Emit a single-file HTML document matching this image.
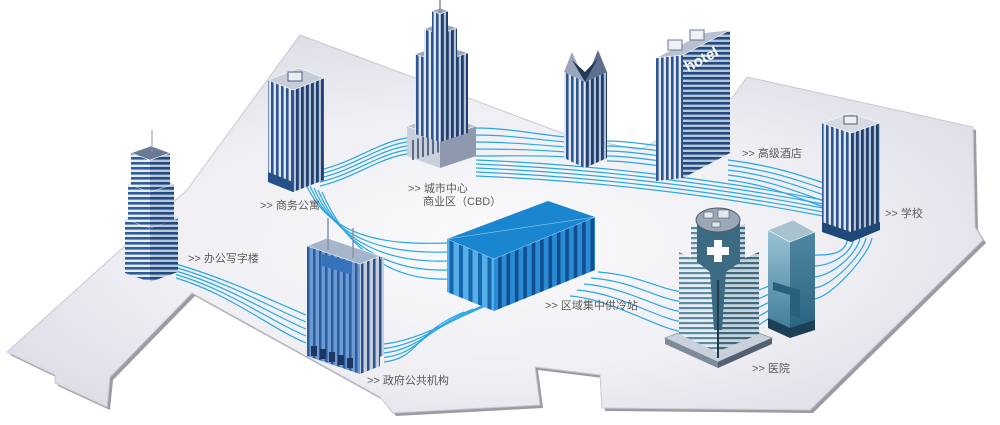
<!DOCTYPE html>
<html><head><meta charset="utf-8"><style>
html,body{margin:0;padding:0;background:#fff;width:1000px;height:425px;overflow:hidden}
svg{display:block}
.lb{font-family:"Liberation Sans","Noto Sans CJK SC",sans-serif;font-size:11px;fill:#5a5a5a}
</style></head><body>
<svg id="s" width="1000" height="425" viewBox="0 0 1000 425" xmlns="http://www.w3.org/2000/svg">
<defs>
<radialGradient id="gg" cx="0.5" cy="0.55" r="0.6">
<stop offset="0" stop-color="#fbfbfd"/><stop offset="0.6" stop-color="#eeeef3"/><stop offset="1" stop-color="#dcdde6"/>
</radialGradient>
<pattern id="vs" width="5" height="10" patternUnits="userSpaceOnUse"><rect width="5" height="10" fill="#dfe5ef"/><rect x="1" width="2.6" height="10" fill="#2d568f"/></pattern>
<pattern id="vsd" width="5" height="10" patternUnits="userSpaceOnUse"><rect width="5" height="10" fill="#b3c0d4"/><rect x="1" width="2.8" height="10" fill="#1f3f70"/></pattern>
<pattern id="hs" width="10" height="5" patternUnits="userSpaceOnUse"><rect width="10" height="5" fill="#e8eef7"/><rect y="2" width="10" height="2.6" fill="#2e5d9a"/></pattern>
<pattern id="hsd" width="10" height="5" patternUnits="userSpaceOnUse"><rect width="10" height="5" fill="#b8c6da"/><rect y="2" width="10" height="2.6" fill="#234a80"/></pattern>
<pattern id="hh" width="10" height="5" patternUnits="userSpaceOnUse"><rect width="10" height="5" fill="#e6eef2"/><rect y="2" width="10" height="2.2" fill="#5f8aa3"/></pattern>
<pattern id="hhd" width="10" height="5" patternUnits="userSpaceOnUse"><rect width="10" height="5" fill="#c4d3dc"/><rect y="2" width="10" height="2.2" fill="#40697f"/></pattern>
<pattern id="gl" width="6" height="10" patternUnits="userSpaceOnUse"><rect width="6" height="10" fill="#6d9ad2"/><rect x="1" width="2.5" height="10" fill="#2a5ca0"/></pattern>
<pattern id="gr" width="6" height="10" patternUnits="userSpaceOnUse"><rect width="6" height="10" fill="#c2cee0"/><rect x="1" width="2.5" height="10" fill="#2d4f82"/></pattern>
<pattern id="cl" width="9.5" height="10" patternUnits="userSpaceOnUse"><rect width="9.5" height="10" fill="#56aee8"/><rect x="3" width="4" height="10" fill="#1566ab"/></pattern>
<pattern id="cr" width="8.4" height="10" patternUnits="userSpaceOnUse"><rect width="8.4" height="10" fill="#2a8ad3"/><rect x="2.5" width="3.6" height="10" fill="#0f4f8f"/></pattern>
<linearGradient id="tl" x1="0" y1="0" x2="0" y2="1"><stop offset="0" stop-color="#9cc3d6"/><stop offset="1" stop-color="#3d7a98"/></linearGradient>
<linearGradient id="tr" x1="0" y1="0" x2="0" y2="1"><stop offset="0" stop-color="#4f86a3"/><stop offset="1" stop-color="#2a6380"/></linearGradient>
</defs>
<polygon points="303,38 570,138 643,153 736,100 750,80 976,130 978,230 986,243 813,413 605,411 603,378 538,370 543,408 396,416 383,400 195,296 113,380 110,410 58,386 58,378 10,355 190,193" fill="#9a9ba3"/>
<polygon points="300,35 567,135 640,150 733,97 747,77 973,127 975,227 983,240 810,410 602,408 600,375 535,367 540,405 393,413 380,397 192,293 110,377 107,407 55,383 55,375 7,352 187,190" fill="url(#gg)" stroke="#c8c9d2" stroke-width="1"/>
<g id="p" fill="none" stroke="#2aa7e2" stroke-width="1.2"></g>
<g id="b"></g>
<text class="lb" x="188" y="262">&gt;&gt; 办公写字楼</text>
<text class="lb" x="260" y="209">&gt;&gt; 商务公寓</text>
<text class="lb" x="408" y="192">&gt;&gt; 城市中心</text>
<text class="lb" x="423" y="205">商业区（CBD）</text>
<text class="lb" x="545" y="309">&gt;&gt; 区域集中供冷站</text>
<text class="lb" x="367" y="384">&gt;&gt; 政府公共机构</text>
<text class="lb" x="742" y="157">&gt;&gt; 高级酒店</text>
<text class="lb" x="885" y="217">&gt;&gt; 学校</text>
<text class="lb" x="752" y="372">&gt;&gt; 医院</text>
</svg>
<script>
var NS="http://www.w3.org/2000/svg",B=document.getElementById('b'),P=document.getElementById('p');
function el(t,a,par){var e=document.createElementNS(NS,t);for(var k in a)e.setAttribute(k,a[k]);(par||B).appendChild(e);return e;}
function poly(pts,f,st){return el('polygon',{points:pts.map(function(p){return p.join(',')}).join(' '),fill:f,stroke:st||'none','stroke-width':0.6});}
function box(cx,t,b,wl,dl,wr,dr,fl,fr,ft){
 poly([[cx-wl,t+dl],[cx,t],[cx,b],[cx-wl,b+dl]],fl);
 poly([[cx,t],[cx+wr,t+dr],[cx+wr,b+dr],[cx,b]],fr);
 if(ft)poly([[cx-wl,t+dl],[cx,t],[cx+wr,t+dr],[cx+wr-wl,t+dr+dl]],ft,'#fff');
}
function pipes(n,x0,y0,dx0,dy0,x1,y1,dx1,dy1,c0x,c0y,c1x,c1y){
 for(var i=0;i<n;i++){
  var a=[x0+dx0*i,y0+dy0*i],b=[x1+dx1*i,y1+dy1*i];
  var d='M'+a+' C'+(c0x+dx0*i)+','+(c0y+dy0*i)+' '+(c1x+dx1*i)+','+(c1y+dy1*i)+' '+b;
  el('path',{d:d},P);
 }
}
pipes(5,176,264,0,3.5,306,315,0,7,230,280,270,300);
pipes(5,320,170,0,4,414,137,0,4,360,160,380,140);
pipes(5,306,184,4,2,448,243,0,9,330,240,390,245);
pipes(5,475,128,0,7,566,137,0,5,510,128,540,135);
pipes(5,607,141,0,5,660,146,0,5,625,141,645,144);
pipes(5,476,160,0,4,823,200,0,4,600,165,720,180);
pipes(5,728,160,0,5,824,183,0,6,770,165,800,175);
pipes(5,500,300,-9,3,384,344,0,4.5,450,320,420,340);
pipes(5,598,272,-7,6,684,292,0,10,640,275,660,290);
pipes(5,848,238,6,0,813,255,0,11,845,255,830,255);
pipes(5,752,292,0,9,772,285,0,8,760,290,766,287);
// CBD
box(440,138,168,33,-12,36,-12,'#c9cfdb','#8e99ad','#b7bfcd');
for(var i=0;i<6;i++)el('rect',{x:412+i*5,y:140+i*-1.5,width:2,height:20,fill:'#596a86'});
box(440,62,142,25,-8,28,-9,'url(#vs)','url(#vsd)','#9aa6bb');
box(440,34,64,16,-5,17,-6,'url(#vs)','url(#vsd)','#9aa6bb');
box(440,14,36,8,-3,8,-3,'url(#vs)','url(#vsd)','#9aa6bb');
el('line',{x1:440,y1:0,x2:440,y2:12,stroke:'#7d8aa0','stroke-width':1.5});
// gothic
box(585,82,168,21,-10,22,-10,'url(#vs)','url(#vsd)');
poly([[564,72],[572,52],[585,82]],'#9aa6bb');poly([[585,82],[598,50],[607,72]],'#5e6e8b');
poly([[572,60],[585,82],[598,58],[585,72]],'#24385c');
// hotel
box(683,55,178,27,3,47,-25,'url(#vs)','url(#hsd)','#b9c1d0');
el('rect',{x:668,y:40,width:14,height:10,fill:'#eef1f6',stroke:'#6b7891'});
el('rect',{x:690,y:30,width:14,height:10,fill:'#eef1f6',stroke:'#6b7891'});
var ht=el('text',{x:688,y:72,fill:'#fff','font-family':'Liberation Sans, sans-serif','font-weight':'bold','font-size':'15',transform:'rotate(-28 688 72)'});ht.textContent='hotel';
// 商务公寓
box(293,90,192,25,-10,31,-12,'url(#vs)','url(#vsd)','#c7ceda');
el('rect',{x:288,y:72,width:14,height:9,fill:'#e9ecf2',stroke:'#4e5d78'});
poly([[268,172],[293,182],[293,192],[268,182]],'#25508a');
// school
box(851,133,240,29,-10,29,-10,'url(#vs)','url(#vsd)','#d5dae3');
el('rect',{x:844,y:116,width:13,height:8,fill:'#eef0f4',stroke:'#4e5d78'});
poly([[822,222],[851,232],[880,222],[880,230],[851,242],[822,232]],'#1f4878');
// office tower
box(150,228,282,25,-9,28,-10,'url(#hs)','url(#hsd)','#c9d0dc');
box(150,192,228,22,-8,24,-8,'url(#hs)','url(#hsd)','#c9d0dc');
box(150,160,192,19,-7,20,-7,'url(#hs)','url(#hsd)','#6a7a95');
el('line',{x1:152,y1:130,x2:152,y2:152,stroke:'#8a96aa','stroke-width':1});
// container
poly([[447,239],[548,201],[595,217],[494,259]],'#1a86d0');
poly([[447,239],[494,259],[494,311],[447,292]],'url(#cl)');
poly([[494,259],[595,217],[595,270],[494,311]],'url(#cr)');
poly([[447,239],[494,259],[595,217]],'none','#8fd0f5');
// gov
box(372,262,360,20,-8,12,-5,'url(#gl)','url(#gr)');
box(360,264,374,53,-18,20,-8,'url(#gl)','url(#gr)','#a4b5cc');
poly([[322,254],[352,262],[352,275],[322,266]],'#3773bd');
el('line',{x1:328,y1:218,x2:328,y2:250,stroke:'#8994a8','stroke-width':1.5});
el('line',{x1:353,y1:228,x2:353,y2:258,stroke:'#8994a8','stroke-width':1.5});
for(var i=0;i<5;i++)el('rect',{x:311+i*9,y:346+i*3,width:6,height:10,fill:'#1d3760'});
// teal
box(790,242,332,22,-12,25,-10,'url(#tl)','url(#tr)','#a8c2cf');
poly([[773,282],[800,290],[800,318],[790,315],[790,295],[773,290]],'#2a5f7b');
poly([[768,318],[790,328],[815,320],[815,330],[790,338],[768,328]],'#1c3f56');
// hospital
poly([[665,338],[718,318],[772,338],[718,362]],'#c9d2dc','#6f7c8c');
poly([[665,338],[718,362],[718,368],[665,344]],'#7d8a99');
poly([[718,362],[772,338],[772,344],[718,368]],'#53606f');
box(717,270,352,38,-18,42,-18,'url(#hh)','url(#hhd)');
box(717,236,272,26,-12,28,-12,'url(#hh)','url(#hhd)');
poly([[697,222],[740,222],[740,262],[726,272],[722,330],[714,330],[710,272],[697,262]],'#3b6a82');
el('line',{x1:718,y1:280,x2:718,y2:358,stroke:'#1f3a4c','stroke-width':2});
el('ellipse',{cx:718,cy:220,rx:22,ry:12,fill:'#9aa7b6',stroke:'#4d5b6a'});
el('rect',{x:704,y:212,width:9,height:6,fill:'#e3e8ee',stroke:'#4d5b6a','stroke-width':0.6});
el('rect',{x:718,y:210,width:11,height:8,fill:'#e3e8ee',stroke:'#4d5b6a','stroke-width':0.6});
el('rect',{x:712,y:222,width:8,height:5,fill:'#e3e8ee',stroke:'#4d5b6a','stroke-width':0.6});
poly([[714,240],[722,240],[722,247],[729,247],[729,255],[722,255],[722,262],[714,262],[714,255],[707,255],[707,247],[714,247]],'#fff');
</script>
</body></html>
